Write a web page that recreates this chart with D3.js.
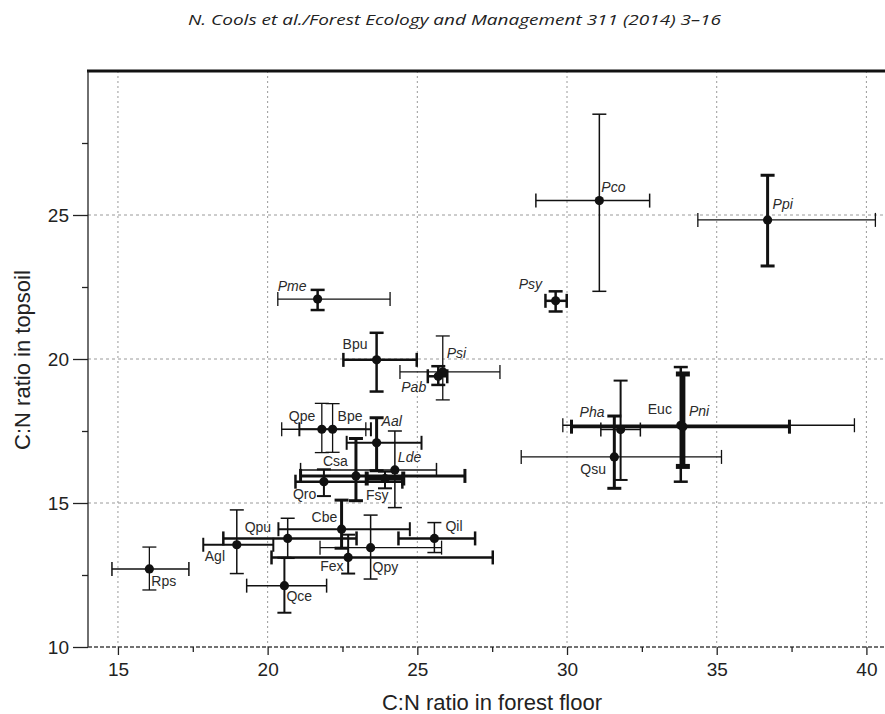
<!DOCTYPE html>
<html>
<head>
<meta charset="utf-8">
<script src="https://cdn.jsdelivr.net/npm/d3@7"></script>
<style>
  html, body { margin: 0; padding: 0; background: #fff; }
  svg { display: block; }
</style>
</head>
<body>
<svg id="chart" width="885" height="714"></svg>
<script>
// Species codes and mean C:N ratios (forest floor vs. topsoil) with error ranges
const species     = ["Pco","Ppi","Psy","Pme","Bpu","Psi","Pab","Pha","Euc","Pni","Qsu","Qpe","Bpe","Aal","Lde","Csa","Qro","Fsy","Cbe","Qpu","Qil","Agl","Fex","Qpy","Qce","Rps"];
const cnFloor     = [31.08,36.70,29.62,21.67,23.64,25.85,25.70,31.79,33.80,33.87,31.58,21.81,22.17,23.64,24.25,22.95,21.88,23.92,22.47,20.67,25.57,18.97,22.69,23.44,20.56,16.05];
const cnTopsoil   = [25.50,24.83,22.02,22.08,19.97,19.55,19.40,17.55,17.70,17.65,16.60,17.56,17.56,17.09,16.15,15.94,15.74,15.85,14.09,13.77,13.77,13.55,13.11,13.45,12.13,12.71];
const floorLow    = [28.96,34.37,29.28,20.34,22.53,24.42,25.35,31.13,29.86,30.15,28.47,20.47,21.06,22.64,21.10,21.10,20.93,23.31,20.36,18.52,24.37,17.85,20.13,21.75,19.30,14.80];
const floorHigh   = [32.76,40.30,29.99,24.09,24.98,27.76,26.00,32.45,39.60,37.43,35.16,23.28,23.45,25.14,25.64,26.59,24.50,24.53,24.75,22.97,26.93,20.19,27.52,25.81,21.97,17.37];
const topsoilLow  = [22.35,23.23,21.65,21.70,18.87,18.58,19.10,15.80,15.74,16.27,15.51,16.75,16.76,16.12,14.84,15.08,15.24,15.51,13.43,13.08,13.28,12.55,12.55,12.36,11.19,11.98];
const topsoilHigh = [28.50,26.38,22.35,22.40,20.91,20.80,19.75,19.25,19.72,19.48,18.02,18.46,18.45,17.96,17.50,17.24,16.17,16.09,15.10,14.47,14.32,14.76,13.90,14.58,13.10,13.47];

// Axis ticks
const xTicks = [15, 20, 25, 30, 35, 40];
const xMinorTicks = [17.5, 22.5, 27.5, 32.5, 37.5];
const yTicks = [10, 15, 20, 25];
const yMinorTicks = [12.5, 17.5, 22.5, 27.5];

// Species names set in italics
const italicSpecies = new Set(["Pco","Ppi","Psy","Pme","Psi","Pab","Pha","Pni","Aal","Lde"]);

// Stroke widths of the horizontal / vertical error bars
const barWidth = {
  Pco:[1.5,1.5], Ppi:[1.3,3], Psy:[2.5,2.5], Pme:[1.3,2.5], Bpu:[2.5,2.5], Psi:[1.3,1.3],
  Pab:[2.5,2.5], Pha:[1.5,2], Euc:[1.3,2.5], Pni:[3,5], Qsu:[1.3,3], Qpe:[1.3,1.3],
  Bpe:[2,1.3], Aal:[2,3], Lde:[1.5,1.5], Csa:[3,3], Qro:[2.5,2], Fsy:[4,2], Cbe:[2,3],
  Qpu:[2.5,1.5], Qil:[2.5,1.5], Agl:[2,1.5], Fex:[2.5,2], Qpy:[1.3,1.5], Qce:[1.5,2], Rps:[1.5,1.3]
};

// Label placement relative to each point (px)
const labelOffset = {
  Pco:[2,-9], Ppi:[5,-11], Psy:[-37,-12], Pme:[-40,-8], Bpu:[-34,-11], Psi:[4,-14],
  Pab:[-37,16], Pha:[-41,-13], Euc:[-33,-11], Pni:[6,-11], Qsu:[-34,17], Qpe:[-33,-8],
  Bpe:[5,-8], Aal:[5,-17], Lde:[3,-8], Csa:[-33,-10], Qro:[-31,17], Fsy:[-19,21],
  Cbe:[-30,-7], Qpu:[-43,-6], Qil:[11,-7], Agl:[-32,16], Fex:[-28,14], Qpy:[2,24],
  Qce:[2,15], Rps:[2,17]
};

const rows = species.map((s, i) => ({
  s, x: cnFloor[i], y: cnTopsoil[i],
  xl: floorLow[i], xh: floorHigh[i], yl: topsoilLow[i], yh: topsoilHigh[i]
}));

const W = 885, H = 714;
const plotLeft = 88, plotTop = 71, plotBottom = 647, plotRight = W;

const x = d3.scaleLinear().domain([14, 40]).range([plotLeft, 866.4]);
const y = d3.scaleLinear().domain([10, 30]).range([plotBottom, plotTop]);

const svg = d3.select("#chart");
const font = "'Liberation Sans', Arial, sans-serif";

// Running header
svg.append("text")
  .attr("x", 188).attr("y", 25)
  .attr("textLength", 533).attr("lengthAdjust", "spacingAndGlyphs")
  .style("font-family", "'Open Sans', 'DejaVu Sans', sans-serif")
  .style("font-style", "italic").style("font-size", "15px").attr("fill", "#222")
  .text("N. Cools et al./Forest Ecology and Management 311 (2014) 3–16");

// Grid
const grid = svg.append("g");
grid.selectAll("line.vg").data(xTicks).join("line")
  .attr("x1", d => x(d)).attr("x2", d => x(d))
  .attr("y1", plotTop).attr("y2", plotBottom)
  .attr("stroke", "#9a9a9a").attr("stroke-width", 1).attr("stroke-dasharray", "2,3");
grid.selectAll("line.hg").data(yTicks.filter(d => d > 10)).join("line")
  .attr("x1", plotLeft).attr("x2", plotRight)
  .attr("y1", d => y(d)).attr("y2", d => y(d))
  .attr("stroke", "#9a9a9a").attr("stroke-width", 1).attr("stroke-dasharray", "3,3");

// Error bars
const cap = 7;
const bars = svg.append("g").attr("stroke", "#111").attr("fill", "none");
rows.forEach(d => {
  const [hw, vw] = barWidth[d.s];
  const g = bars.append("g");
  // horizontal (forest floor)
  g.append("line").attr("x1", x(d.xl)).attr("x2", x(d.xh)).attr("y1", y(d.y)).attr("y2", y(d.y)).attr("stroke-width", hw);
  [d.xl, d.xh].forEach(v => g.append("line")
    .attr("x1", x(v)).attr("x2", x(v)).attr("y1", y(d.y) - cap).attr("y2", y(d.y) + cap).attr("stroke-width", hw));
  // vertical (topsoil)
  g.append("line").attr("x1", x(d.x)).attr("x2", x(d.x)).attr("y1", y(d.yl)).attr("y2", y(d.yh)).attr("stroke-width", vw);
  [d.yl, d.yh].forEach(v => g.append("line")
    .attr("x1", x(d.x) - cap).attr("x2", x(d.x) + cap).attr("y1", y(v)).attr("y2", y(v)).attr("stroke-width", vw));
});

// Means
svg.append("g").selectAll("circle").data(rows).join("circle")
  .attr("cx", d => x(d.x)).attr("cy", d => y(d.y)).attr("r", 4.6).attr("fill", "#111");

// Species labels
svg.append("g").selectAll("text").data(rows).join("text")
  .attr("x", d => x(d.x) + labelOffset[d.s][0])
  .attr("y", d => y(d.y) + labelOffset[d.s][1])
  .style("font-family", font).style("font-size", "14px")
  .style("font-style", d => italicSpecies.has(d.s) ? "italic" : "normal")
  .attr("fill", "#2a2a2a")
  .text(d => d.s);

// Frame: heavy top rule, left axis, dashed baseline
svg.append("line").attr("x1", plotLeft - 1).attr("x2", plotRight).attr("y1", plotTop).attr("y2", plotTop)
  .attr("stroke", "#111").attr("stroke-width", 3);
svg.append("line").attr("x1", plotLeft).attr("x2", plotLeft).attr("y1", plotTop).attr("y2", plotBottom)
  .attr("stroke", "#222").attr("stroke-width", 1.3);
svg.append("line").attr("x1", plotLeft).attr("x2", plotRight).attr("y1", plotBottom).attr("y2", plotBottom)
  .attr("stroke", "#444").attr("stroke-width", 1.3).attr("stroke-dasharray", "4,2");

// X axis
const xAxis = svg.append("g").attr("transform", `translate(0,${plotBottom})`)
  .call(d3.axisBottom(x).tickValues(xTicks).tickSize(8).tickFormat(d3.format("d")));
xAxis.select(".domain").remove();
xAxis.selectAll("line").attr("stroke", "#222").attr("stroke-width", 1.3);
xAxis.selectAll("text").style("font-family", font).style("font-size", "19px").attr("fill", "#222").attr("dy", "0.95em");
const xMinor = svg.append("g").attr("transform", `translate(0,${plotBottom})`)
  .call(d3.axisBottom(x).tickValues(xMinorTicks).tickSize(5).tickFormat(""));
xMinor.select(".domain").remove();
xMinor.selectAll("line").attr("stroke", "#222").attr("stroke-width", 1.3);

// Y axis
const yAxis = svg.append("g").attr("transform", `translate(${plotLeft},0)`)
  .call(d3.axisLeft(y).tickValues(yTicks).tickSize(15).tickPadding(4).tickFormat(d3.format("d")));
yAxis.select(".domain").remove();
yAxis.selectAll("line").attr("stroke", "#222").attr("stroke-width", 1.3);
yAxis.selectAll("text").style("font-family", font).style("font-size", "19px").attr("fill", "#222");
const yMinor = svg.append("g").attr("transform", `translate(${plotLeft},0)`)
  .call(d3.axisLeft(y).tickValues(yMinorTicks).tickSize(6).tickFormat(""));
yMinor.select(".domain").remove();
yMinor.selectAll("line").attr("stroke", "#222").attr("stroke-width", 1.3);

// Axis titles
svg.append("text").attr("x", 492).attr("y", 710).attr("text-anchor", "middle")
  .style("font-family", font).style("font-size", "22px").attr("fill", "#222")
  .text("C:N ratio in forest floor");
svg.append("text").attr("transform", "translate(30,360) rotate(-90)").attr("text-anchor", "middle")
  .style("font-family", font).style("font-size", "22px").attr("fill", "#222")
  .text("C:N ratio in topsoil");
</script>
</body>
</html>
